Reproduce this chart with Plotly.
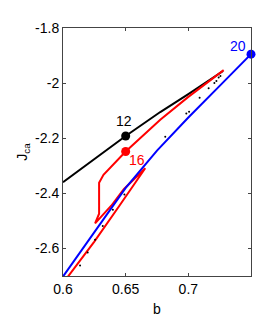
import plotly.graph_objects as go

# Black branch (label 12)
black_b = [0.600, 0.625, 0.650, 0.6776, 0.700, 0.7277]
black_j = [-2.360, -2.276, -2.192, -2.105, -2.040, -1.956]

# Red branch (label 16)
red_b = [0.6035, 0.625, 0.645, 0.6656, 0.6485, 0.6385, 0.6256, 0.6288, 0.6288, 0.6323, 0.650, 0.660, 0.6776, 0.700, 0.7282]
red_j = [-2.705, -2.575, -2.445, -2.309, -2.385, -2.445, -2.509, -2.474, -2.362, -2.333, -2.248, -2.205, -2.133, -2.050, -1.953]

# Blue branch (label 20)
blue_b = [0.600, 0.625, 0.650, 0.675, 0.700, 0.725, 0.750]
blue_j = [-2.702, -2.540, -2.380, -2.245, -2.125, -2.010, -1.895]

# Scattered small dots
dots_b = [0.6136, 0.6197, 0.6256, 0.6317, 0.6398, 0.649, 0.6816, 0.6984, 0.7006, 0.709, 0.7162, 0.7208, 0.7224, 0.7242, 0.7256]
dots_j = [-2.662, -2.615, -2.568, -2.519, -2.460, -2.404, -2.195, -2.110, -2.104, -2.053, -2.019, -2.000, -1.992, -1.980, -1.974]

# Labelled points
pt_labels = ["12", "16", "20"]
pt_b = [0.650, 0.650, 0.750]
pt_j = [-2.192, -2.248, -1.895]
pt_colors = ["black", "red", "blue"]

x_ticks = [0.6, 0.65, 0.7]
x_ticktext = ["0.6", "0.65", "0.7"]
y_ticks = [-2.6, -2.4, -2.2, -2.0, -1.8]
y_ticktext = ["-2.6", "-2.4", "-2.2", "-2", "-1.8"]

FONT = "Liberation Sans, Arial, sans-serif"

fig = go.Figure()
fig.add_trace(go.Scatter(x=black_b, y=black_j, mode="lines", line=dict(color="black", width=2), showlegend=False))
fig.add_trace(go.Scatter(x=red_b, y=red_j, mode="lines", line=dict(color="red", width=2), showlegend=False))
fig.add_trace(go.Scatter(x=blue_b, y=blue_j, mode="lines", line=dict(color="blue", width=2), showlegend=False, cliponaxis=False))
fig.add_trace(go.Scatter(x=dots_b, y=dots_j, mode="markers", marker=dict(color="black", size=2), showlegend=False))
fig.add_trace(go.Scatter(x=pt_b, y=pt_j, mode="markers", marker=dict(color=pt_colors, size=9),
                         showlegend=False, cliponaxis=False))

offsets = [(-2, 15), (11, -9), (-13, 8)]
for lab, xb, yj, c, (dx, dy) in zip(pt_labels, pt_b, pt_j, pt_colors, offsets):
    fig.add_annotation(x=xb, y=yj, text=lab, showarrow=False, xshift=dx, yshift=dy,
                       xanchor="center", yanchor="middle", font=dict(color=c, size=14, family=FONT))

# page body has an 8px default margin, so the figure is sized to end at 278x327
fig.update_layout(
    width=270, height=319,
    margin=dict(l=55, r=27, t=16, b=40),
    paper_bgcolor="white", plot_bgcolor="white",
    font=dict(family=FONT, size=13, color="black"),
    xaxis=dict(range=[0.6, 0.75], tickvals=x_ticks, ticktext=x_ticktext, ticks="inside", ticklen=3,
               tickcolor="#444", showline=True, linecolor="#444", linewidth=1, mirror="ticks",
               showgrid=False, zeroline=False, title=dict(text="b", standoff=8, font=dict(size=14)),
               tickfont=dict(size=14)),
    yaxis=dict(range=[-2.7, -1.8], tickvals=y_ticks, ticktext=y_ticktext, ticks="inside", ticklen=3,
               tickcolor="#444", showline=True, linecolor="#444", linewidth=1, mirror="ticks",
               showgrid=False, zeroline=False, title=dict(text="J<sub>ca</sub>", standoff=4, font=dict(size=14)),
               tickfont=dict(size=14)),
)

fig.write_html("out.html")
